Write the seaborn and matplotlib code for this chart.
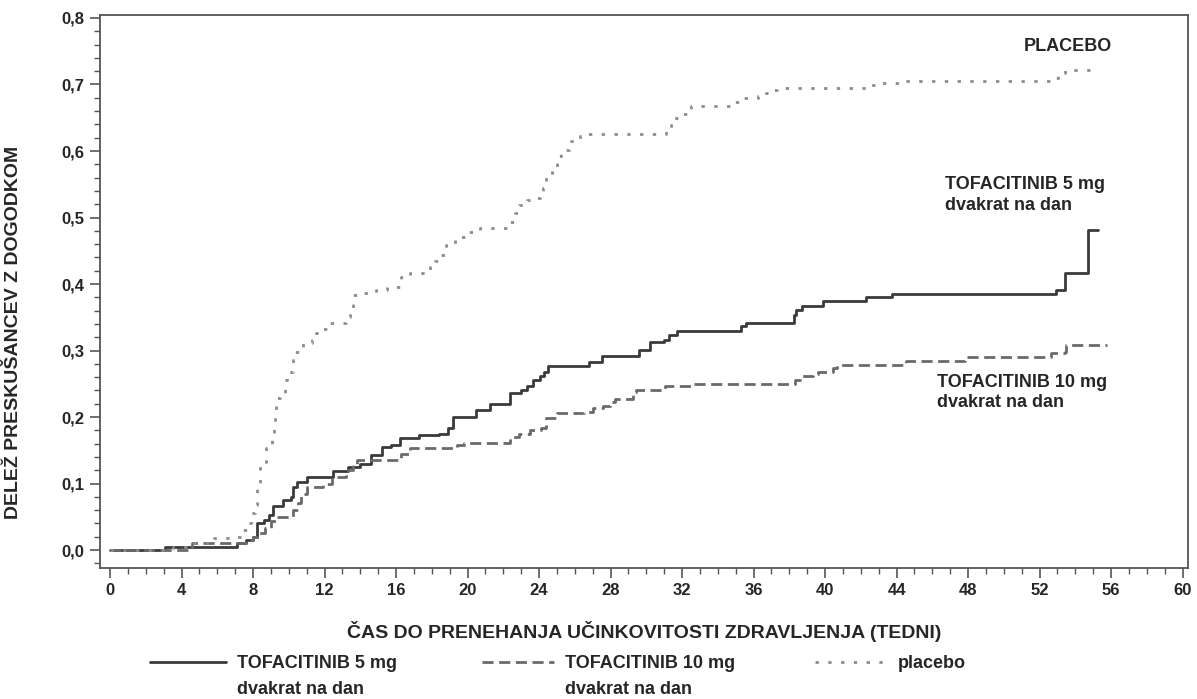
import matplotlib
matplotlib.use("Agg")
import matplotlib.pyplot as plt
from matplotlib.ticker import MultipleLocator, FuncFormatter
import pandas as pd
import seaborn as sns

sns.set_theme(style="white")
plt.rcParams["font.family"] = ["Liberation Sans", "DejaVu Sans"]
plt.rcParams["font.weight"] = "bold"

# ----------------------------------------------------------
# Data (step curves: week, cumulative proportion)
# ----------------------------------------------------------
tofa5_weeks = [0, 3.1, 7.1, 7.6, 8.0, 8.2, 8.6, 8.9, 9.1, 9.7, 10.1, 10.25, 10.45, 11.0,
               12.45, 13.3, 14.0, 14.6, 15.2, 15.7, 16.2, 17.3, 18.4, 18.9, 19.2, 20.5,
               21.25, 22.35, 23.0, 23.3, 23.65, 24.05, 24.25, 24.5, 26.8, 27.5, 29.6,
               30.2, 31.0, 31.25, 31.7, 35.3, 35.6, 38.25, 38.4, 38.7, 39.9, 42.3,
               43.75, 52.9, 53.4, 54.7, 55.25]
tofa5_prop = [0, 0.005, 0.011, 0.015, 0.02, 0.04, 0.045, 0.053, 0.066, 0.075, 0.08, 0.095,
              0.103, 0.11, 0.119, 0.125, 0.13, 0.143, 0.155, 0.158, 0.169, 0.173, 0.175,
              0.183, 0.2, 0.21, 0.22, 0.236, 0.241, 0.246, 0.256, 0.261, 0.268, 0.276,
              0.283, 0.292, 0.301, 0.313, 0.316, 0.323, 0.33, 0.337, 0.342, 0.353, 0.361,
              0.367, 0.374, 0.38, 0.385, 0.391, 0.416, 0.481, 0.481]

tofa10_weeks = [0, 4.6, 7.6, 8.0, 8.2, 8.65, 9.0, 9.3, 10.25, 10.5, 10.7, 11.0, 11.9, 12.4,
                13.2, 13.6, 13.8, 16.3, 16.8, 19.4, 19.8, 22.35, 22.9, 23.5, 24.1, 24.4,
                25.0, 26.5, 27.0, 27.6, 27.95, 28.25, 29.25, 29.45, 31.05, 32.5, 38.3,
                38.6, 39.3, 39.6, 40.45, 40.65, 44.55, 47.8, 52.65, 53.4, 53.5, 55.75]
tofa10_prop = [0, 0.011, 0.015, 0.02, 0.025, 0.033, 0.043, 0.05, 0.06, 0.07, 0.085, 0.095,
               0.1, 0.11, 0.12, 0.128, 0.135, 0.145, 0.153, 0.158, 0.161, 0.17, 0.175,
               0.18, 0.183, 0.198, 0.206, 0.208, 0.213, 0.216, 0.223, 0.227, 0.238, 0.241,
               0.246, 0.25, 0.256, 0.262, 0.265, 0.267, 0.273, 0.278, 0.284, 0.291, 0.296,
               0.298, 0.309, 0.309]

placebo_weeks = [0, 3.5, 4.6, 5.8, 7.1, 7.4, 7.65, 7.9, 8.1, 8.2, 8.4, 8.75, 9.05, 9.15,
                 9.25, 9.3, 9.5, 9.8, 9.9, 10.25, 10.35, 10.8, 11.3, 11.5, 11.9, 12.3,
                 13.2, 13.45, 13.6, 14.2, 14.9, 15.5, 16.3, 16.8, 17.6, 17.9, 18.2, 18.45,
                 18.8, 19.3, 19.85, 20.7, 22.4, 22.65, 22.9, 23.3, 23.7, 24.05, 24.2, 24.4,
                 24.7, 25.0, 25.2, 25.7, 25.8, 26.3, 26.5, 31.1, 31.4, 31.5, 31.9, 32.25,
                 32.5, 34.85, 35.2, 36.25, 36.7, 37.0, 37.3, 42.5, 43.0, 44.4, 52.85, 53.05,
                 53.4, 55.1]
placebo_prop = [0, 0.005, 0.011, 0.018, 0.02, 0.03, 0.04, 0.055, 0.068, 0.098, 0.133, 0.153,
                0.17, 0.185, 0.21, 0.228, 0.236, 0.256, 0.268, 0.286, 0.298, 0.311, 0.316,
                0.326, 0.333, 0.341, 0.351, 0.358, 0.383, 0.386, 0.391, 0.396, 0.411, 0.416,
                0.421, 0.429, 0.434, 0.444, 0.459, 0.47, 0.478, 0.484, 0.493, 0.507, 0.519,
                0.526, 0.53, 0.532, 0.545, 0.564, 0.575, 0.592, 0.602, 0.606, 0.615, 0.622,
                0.626, 0.635, 0.639, 0.65, 0.656, 0.661, 0.668, 0.673, 0.679, 0.683, 0.687,
                0.692, 0.695, 0.699, 0.702, 0.706, 0.71, 0.717, 0.722, 0.722]

x_ticks = list(range(0, 61, 4))

# ----------------------------------------------------------
# Figure
# ----------------------------------------------------------
W, H = 1197, 699
fig = plt.figure(figsize=(W / 100, H / 100), dpi=100)
ax = fig.add_axes([100 / W, (H - 568) / H, (1188 - 100) / W, (568 - 15) / H])

series = [
    (tofa5_weeks, tofa5_prop, "#3a3a3a", "-"),
    (tofa10_weeks, tofa10_prop, "#6a6a6a", (0, (4, 2))),
    (placebo_weeks, placebo_prop, "#8c8c8c", (0, (1.2, 3.4))),
]
for wk, pr, col, ls in series:
    sns.lineplot(x=wk, y=pr, ax=ax, color=col, linestyle=ls, linewidth=2,
                 drawstyle="steps-post", estimator=None, sort=False)

ax.set_xlim(-0.56, 60.3)
ax.set_ylim(-0.027, 0.8045)
ax.set_xticks(x_ticks)
ax.xaxis.set_minor_locator(MultipleLocator(1))
ax.yaxis.set_major_locator(MultipleLocator(0.1))
ax.yaxis.set_minor_locator(MultipleLocator(0.02))
ax.yaxis.set_major_formatter(FuncFormatter(lambda v, p: f"{v:.1f}".replace(".", ",")))
ax.tick_params(axis="both", which="major", direction="out", length=7, width=1.2,
               color="#555555", labelsize=12, pad=4, bottom=True, left=True)
ax.tick_params(axis="both", which="minor", direction="out", length=4, width=1.0,
               color="#555555", bottom=True, left=True)
for lab in ax.get_xticklabels() + ax.get_yticklabels():
    lab.set_fontweight("bold")
for sp in ax.spines.values():
    sp.set_color("#555555")
    sp.set_linewidth(1.3)
ax.grid(False)

ax.set_xlabel("ČAS DO PRENEHANJA UČINKOVITOSTI ZDRAVLJENJA (TEDNI)",
              fontsize=14, fontweight="bold", labelpad=16)
fig.text(14 / W, 1 - 332 / H, "DELEŽ PRESKUŠANCEV Z DOGODKOM", rotation=90,
         fontsize=14, fontweight="bold", ha="center", va="center")

# curve labels
ax.text(53.6, 0.757, "PLACEBO", fontsize=13, fontweight="bold", ha="center", va="center")
ax.text(46.7, 0.534, "TOFACITINIB 5 mg\ndvakrat na dan", fontsize=13,
        fontweight="bold", ha="left", va="center", linespacing=1.25)
ax.text(46.25, 0.237, "TOFACITINIB 10 mg\ndvakrat na dan", fontsize=13,
        fontweight="bold", ha="left", va="center", linespacing=1.25)

# legend below the plot, one block per group
legend_items = [
    ("TOFACITINIB 5 mg", "dvakrat na dan", "-", "#3a3a3a", 150, 4.2),
    ("TOFACITINIB 10 mg", "dvakrat na dan", (0, (4, 2)), "#6a6a6a", 482, 4.0),
    ("placebo", "", (0, (1.2, 3.4)), "#8c8c8c", 815, 4.0),
]
for first, second, ls, col, px, hl in legend_items:
    h = plt.Line2D([], [], color=col, linestyle=ls, linewidth=2)
    fig.legend([h], [first], loc="upper left", frameon=False,
               bbox_to_anchor=(px / W, 1 - 655 / H), borderaxespad=0,
               borderpad=0, handlelength=hl, handletextpad=0.6,
               prop={"weight": "bold", "size": 13})
    if second:
        fig.text((px + hl * 18 + 11) / W, 1 - 690 / H, second, fontsize=13,
                 fontweight="bold", ha="left", va="center")

fig.savefig("out.png", dpi=100)
